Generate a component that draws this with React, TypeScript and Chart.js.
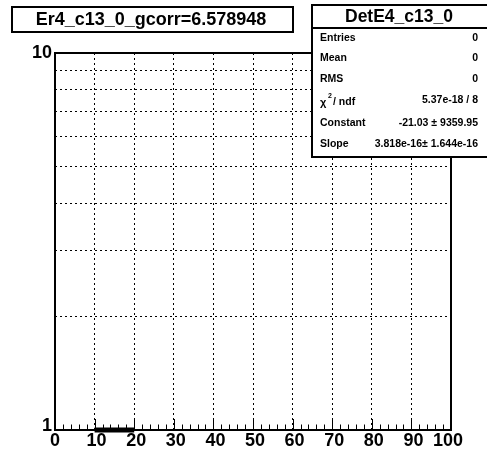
import React, { useEffect, useRef } from "react";
import { Chart, registerables } from "chart.js";

Chart.register(...registerables);

const histTitle = "Er4_c13_0_gcorr=6.578948";
const statsTitle = "DetE4_c13_0";
const statsLabels = ["Entries", "Mean", "RMS", "χ2 / ndf", "Constant", "Slope"];
const statsValues = ["0", "0", "0", "5.37e-18 / 8", "-21.03 ± 9359.95", "3.818e-16± 1.644e-16"];
const xTickValues = [0, 10, 20, 30, 40, 50, 60, 70, 80, 90, 100];
const xTickLabels = ["0", "10", "20", "30", "40", "50", "60", "70", "80", "90", "100"];
const yGridValues = [1, 2, 3, 4, 5, 6, 7, 8, 9, 10];
const yTickValues = [1, 10];
const yTickLabels = ["1", "10"];
const binLowEdges = [10];
const binHighEdges = [20];
const binContents = [1];

const FONT = "'Liberation Sans', Arial, Helvetica, sans-serif";

const overlay = {
  id: "rootOverlay",
  beforeDraw(chart: any) {
    const ctx = chart.ctx;
    ctx.save();
    ctx.fillStyle = "#fff";
    ctx.fillRect(0, 0, chart.width, chart.height);
    ctx.restore();
  },
  afterDraw(chart: any) {
    const ctx = chart.ctx;
    const xs = chart.scales.x;
    const ys = chart.scales.y;
    const a = chart.chartArea;
    ctx.save();
    // frame
    ctx.strokeStyle = "#000";
    ctx.lineWidth = 2;
    ctx.strokeRect(a.left, a.top, a.right - a.left, a.bottom - a.top);
    // x ticks (inward)
    ctx.lineWidth = 1;
    for (let v = 0; v <= 100; v += 2) {
      const px = Math.round(xs.getPixelForValue(v)) + 0.5;
      const len = v % 10 === 0 ? 11 : 5.5;
      ctx.beginPath();
      ctx.moveTo(px, a.bottom);
      ctx.lineTo(px, a.bottom - len);
      ctx.stroke();
    }
    // x labels
    ctx.fillStyle = "#000";
    ctx.font = `bold 18px ${FONT}`;
    ctx.textAlign = "center";
    ctx.textBaseline = "top";
    xTickValues.forEach((v, i) => {
      const off = v === 100 ? -3 : v === 0 ? 0 : 2;
      ctx.fillText(xTickLabels[i], xs.getPixelForValue(v) + off, a.bottom + 2);
    });
    // y labels
    ctx.textAlign = "right";
    ctx.textBaseline = "middle";
    yTickValues.forEach((v, i) => {
      const py = ys.getPixelForValue(v);
      ctx.fillText(yTickLabels[i], a.left - 3, v === 1 ? py - 4 : py);
    });
    // title box
    ctx.lineWidth = 2;
    ctx.fillStyle = "#fff";
    ctx.fillRect(12, 7, 281, 25);
    ctx.strokeRect(12, 7, 281, 25);
    ctx.fillStyle = "#000";
    ctx.font = `bold 18px ${FONT}`;
    ctx.textAlign = "center";
    ctx.fillText(histTitle, 151, 20);
    // stats box
    ctx.fillStyle = "#fff";
    ctx.fillRect(312, 5, 176, 152);
    ctx.strokeRect(312, 5, 176, 152);
    ctx.beginPath();
    ctx.moveTo(312, 28);
    ctx.lineTo(488, 28);
    ctx.stroke();
    ctx.fillStyle = "#000";
    ctx.font = `bold 17.5px ${FONT}`;
    ctx.textAlign = "center";
    ctx.fillText(statsTitle, 399, 17);
    const rowY = [38, 58, 79, 102, 123, 144];
    const valY = [38, 58, 79, 100, 123, 144];
    ctx.font = `bold 10.5px ${FONT}`;
    statsLabels.forEach((lab, i) => {
      ctx.textAlign = "left";
      if (lab.startsWith("χ")) {
        ctx.font = `bold 11px ${FONT}`;
        ctx.fillText("χ", 320, rowY[i] + 1);
        ctx.font = `bold 7px ${FONT}`;
        ctx.fillText("2", 328, rowY[i] - 6);
        ctx.font = `bold 10.5px ${FONT}`;
        ctx.fillText("/ ndf", 333, rowY[i]);
      } else {
        ctx.fillText(lab, 320, rowY[i]);
      }
      ctx.textAlign = "right";
      ctx.fillText(statsValues[i], 478, valY[i]);
    });
    ctx.restore();
  },
};

export default function App() {
  const ref = useRef<HTMLCanvasElement | null>(null);
  useEffect(() => {
    if (!ref.current) return;
    const data: { x: number; y: number }[] = [];
    binLowEdges.forEach((lo, i) => {
      data.push({ x: lo, y: binContents[i] });
      data.push({ x: binHighEdges[i], y: binContents[i] });
    });
    const chart = new Chart(ref.current, {
      type: "line",
      data: {
        datasets: [
          {
            data,
            borderColor: "#000",
            borderWidth: 5,
            borderCapStyle: "butt",
            pointRadius: 0,
            clip: false as any,
            fill: false,
          },
        ],
      },
      options: {
        animation: false,
        responsive: false,
        devicePixelRatio: 1,
        layout: { padding: { left: 55, top: 53, right: 36, bottom: 24 } },
        plugins: { legend: { display: false }, tooltip: { enabled: false } },
        scales: {
          x: {
            type: "linear",
            min: 0,
            max: 100,
            afterBuildTicks: (s: any) => {
              s.ticks = xTickValues.map((v) => ({ value: v }));
            },
            ticks: { display: false },
            grid: {
              drawTicks: false,
              lineWidth: 1,
              color: (c: any) =>
                c.tick && (c.tick.value === 0 || c.tick.value === 100) ? "rgba(0,0,0,0)" : "#000",
            },
            border: { display: false, dash: [2, 3] },
          },
          y: {
            type: "logarithmic",
            min: 1,
            max: 10,
            afterBuildTicks: (s: any) => {
              s.ticks = yGridValues.map((v) => ({ value: v }));
            },
            ticks: { display: false },
            grid: {
              drawTicks: false,
              lineWidth: 1,
              color: (c: any) =>
                c.tick && (c.tick.value === 1 || c.tick.value === 10) ? "rgba(0,0,0,0)" : "#000",
            },
            border: { display: false, dash: [2, 3] },
          },
        },
      },
      plugins: [overlay],
    });
    return () => chart.destroy();
  }, []);
  return (
    <div style={{ position: "absolute", left: 0, top: 0, width: 487, height: 454 }}>
      <canvas ref={ref} width={487} height={454} style={{ width: 487, height: 454, display: "block" }} />
    </div>
  );
}
